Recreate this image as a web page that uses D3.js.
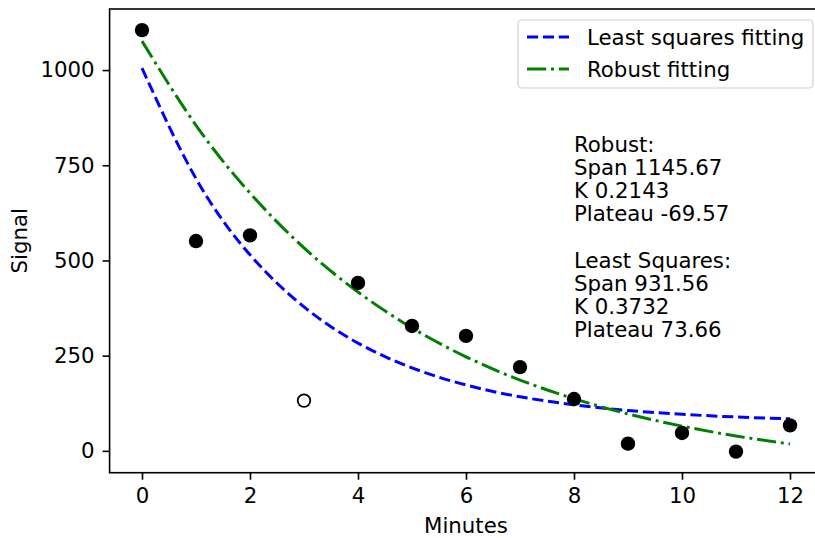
<!DOCTYPE html>
<html>
<head>
<meta charset="utf-8">
<script src="https://cdn.jsdelivr.net/npm/d3@7"></script>
<style>
  body { margin: 0; background: #fff; }
  svg { display: block; font-family: "DejaVu Sans", sans-serif; }
</style>
</head>
<body>
<div id="chart"></div>
<script>
// measured points (minutes vs signal), the one at 3 min is excluded from the fit
var minutes = [0, 1, 2, 3, 4, 5, 6, 7, 8, 9, 10, 11, 12];
var signal = [1105, 551, 566, 132, 441, 328, 302, 220, 136, 19, 47, -2, 67];
var excluded = [3];

// fitted curves read at each minute
var fitMinutes = [0, 1, 2, 3, 4, 5, 6, 7, 8, 9, 10, 11, 12];
var leastSquaresFit = [1005, 715, 515, 378, 283, 218, 173, 142, 121, 106, 96, 89, 84];
var robustFit = [1076, 855, 677, 533, 417, 323, 247, 186, 137, 97, 65, 39, 18];

var xTicks = [0, 2, 4, 6, 8, 10, 12];
var yTicks = [0, 250, 500, 750, 1000];
var legendLabels = ["Least squares fitting", "Robust fitting"];
var fitNotes = ["Robust:", "Span 1145.67", "K 0.2143", "Plateau -69.57", "",
                "Least Squares:", "Span 931.56", "K 0.3732", "Plateau 73.66"];

var W = 815, H = 538;
var margin = {top: 9, left: 109.6, right: 822.4, bottom: 472.7};
var fontSize = "21.3px";

var x = d3.scaleLinear().domain([-0.6, 12.6]).range([margin.left, margin.right]);
var y = d3.scaleLinear().domain([-57.35, 1160.35]).range([margin.bottom, margin.top]);

var svg = d3.select("#chart").append("svg")
    .attr("width", W)
    .attr("height", H);

svg.append("defs").append("clipPath")
    .attr("id", "plotclip")
  .append("rect")
    .attr("x", margin.left)
    .attr("y", margin.top)
    .attr("width", margin.right - margin.left)
    .attr("height", margin.bottom - margin.top);

var plot = svg.append("g").attr("clip-path", "url(#plotclip)");

var fitLine = d3.line()
    .x(function(d, i) { return x(fitMinutes[i]); })
    .y(function(d) { return y(d); })
    .curve(d3.curveNatural);

plot.append("path")
    .datum(leastSquaresFit)
    .attr("d", fitLine)
    .attr("fill", "none")
    .attr("stroke", "#0000ff")
    .attr("stroke-width", 3)
    .attr("stroke-dasharray", "11.1,4.8");

plot.append("path")
    .datum(robustFit)
    .attr("d", fitLine)
    .attr("fill", "none")
    .attr("stroke", "#008000")
    .attr("stroke-width", 3)
    .attr("stroke-dasharray", "19.2,4.8,3,4.8");

plot.selectAll("circle.pt")
    .data(minutes)
  .enter().append("circle")
    .attr("class", "pt")
    .attr("cx", function(d) { return x(d); })
    .attr("cy", function(d, i) { return y(signal[i]); })
    .attr("r", function(d) { return excluded.indexOf(d) >= 0 ? 6.3 : 7.2; })
    .attr("fill", function(d) { return excluded.indexOf(d) >= 0 ? "#fff" : "#000"; })
    .attr("stroke", "#000")
    .attr("stroke-width", function(d) { return excluded.indexOf(d) >= 0 ? 1.8 : 0; });

// axes
var xAxis = svg.append("g")
    .attr("transform", "translate(0," + margin.bottom + ")")
    .call(d3.axisBottom(x).tickValues(xTicks).tickSize(7).tickPadding(8).tickFormat(d3.format("d")));
var yAxis = svg.append("g")
    .attr("transform", "translate(" + margin.left + ",0)")
    .call(d3.axisLeft(y).tickValues(yTicks).tickSize(7).tickPadding(8).tickFormat(d3.format("d")));

[xAxis, yAxis].forEach(function(a) {
  a.select(".domain").remove();
  a.selectAll("line").attr("stroke", "#000").attr("stroke-width", 1.6);
  a.selectAll("text")
    .attr("fill", "#000")
    .style("font-size", fontSize)
    .style("font-family", "DejaVu Sans, sans-serif");
});

// spines
svg.append("rect")
    .attr("x", margin.left)
    .attr("y", margin.top)
    .attr("width", margin.right - margin.left)
    .attr("height", margin.bottom - margin.top)
    .attr("fill", "none")
    .attr("stroke", "#000")
    .attr("stroke-width", 1.6);

svg.append("text")
    .attr("x", x(6))
    .attr("y", 533)
    .attr("text-anchor", "middle")
    .style("font-size", fontSize)
    .text("Minutes");

svg.append("text")
    .attr("transform", "translate(27," + ((margin.top + margin.bottom) / 2) + ") rotate(-90)")
    .attr("text-anchor", "middle")
    .style("font-size", fontSize)
    .text("Signal");

// parameter notes
svg.append("g").selectAll("text")
    .data(fitNotes)
  .enter().append("text")
    .attr("x", x(8))
    .attr("y", function(d, i) { return 152 + i * 23.1; })
    .style("font-size", fontSize)
    .text(function(d) { return d; });

// legend
var legend = svg.append("g");
legend.append("rect")
    .attr("x", 518)
    .attr("y", 20)
    .attr("width", 295)
    .attr("height", 68)
    .attr("rx", 4)
    .attr("fill", "#fff")
    .attr("fill-opacity", 0.8)
    .attr("stroke", "#d0d0d0")
    .attr("stroke-width", 1.2);

var legendStyles = [
  {color: "#0000ff", dash: "11.1,4.8"},
  {color: "#008000", dash: "19.2,4.8,3,4.8"}
];

legendLabels.forEach(function(label, i) {
  var ly = 37 + i * 32;
  legend.append("line")
      .attr("x1", 527).attr("x2", 569)
      .attr("y1", ly).attr("y2", ly)
      .attr("stroke", legendStyles[i].color)
      .attr("stroke-width", 3)
      .attr("stroke-dasharray", legendStyles[i].dash);
  legend.append("text")
      .attr("x", 587)
      .attr("y", ly + 8)
      .style("font-size", fontSize)
      .text(label);
});
</script>
</body>
</html>
